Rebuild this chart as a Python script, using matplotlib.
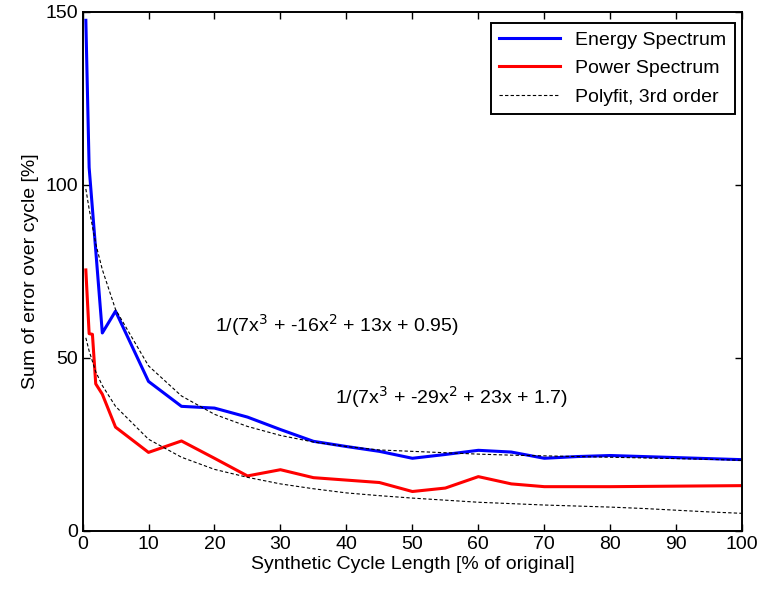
import matplotlib
matplotlib.use("Agg")
import matplotlib.pyplot as plt

plt.rcParams["font.family"] = ["Liberation Sans", "DejaVu Sans"]

# cycle length [% of original]
x_energy = [0.5, 1, 3, 5, 10, 15, 20, 25, 30, 35, 40, 45, 50, 55, 60, 65, 70, 75, 80, 90, 100]
energy = [147.5, 105, 57.2, 63.5, 43.2, 36.0, 35.5, 32.9, 29.3, 25.9, 24.4, 23.0, 21.0, 22.1,
          23.3, 22.8, 21.0, 21.5, 21.8, 21.2, 20.6]

x_power = [0.5, 1, 1.5, 2, 3, 5, 10, 15, 20, 25, 30, 35, 40, 45, 50, 55, 60, 65, 70, 80, 100]
power = [75.4, 57.0, 56.8, 42.5, 39.5, 30.0, 22.7, 26.0, 21.0, 15.9, 17.7, 15.4, 14.7, 14.0,
         11.4, 12.4, 15.7, 13.6, 12.8, 12.8, 13.1]

x_fit = [0.5, 1, 2, 3, 5, 10, 15, 20, 25, 30, 35, 40, 45, 50, 55, 60, 65, 70, 75, 80, 85,
         90, 95, 100]
fit_energy = [98.8, 93.0, 83.0, 75.5, 64.0, 47.7, 39.0, 33.7, 30.2, 27.6, 25.7, 24.4, 23.4,
              23.0, 22.6, 22.2, 21.9, 21.7, 21.5, 21.3, 21.1, 20.9, 20.7, 20.4]
fit_power = [55.8, 52.0, 46.0, 42.0, 36.0, 26.5, 21.3, 17.8, 15.5, 13.6, 12.2, 11.0, 10.2,
             9.5, 8.9, 8.3, 7.9, 7.5, 7.2, 6.9, 6.5, 6.0, 5.5, 5.1]

fig = plt.figure(figsize=(7.6, 5.89), dpi=100)
ax = fig.add_axes([0.1086, 0.0985, 0.868, 0.8817])

ax.plot(x_energy, energy, color="#0000ff", lw=2.2, label="Energy Spectrum")
ax.plot(x_power, power, color="#ff0000", lw=2.2, label="Power Spectrum")
ax.plot(x_fit, fit_energy, color="k", lw=0.8, ls=(0, (3, 2)), label="Polyfit, 3rd order")
ax.plot(x_fit, fit_power, color="k", lw=0.8, ls=(0, (3, 2)))

ax.text(20.1, 59.4, r"1/(7x$^3$ + -16x$^2$ + 13x + 0.95)", fontsize=14, va="center")
ax.text(38.3, 38.8, r"1/(7x$^3$ + -29x$^2$ + 23x + 1.7)", fontsize=14, va="center")

ax.set_xlim(0, 100)
ax.set_ylim(0, 150)
ax.set_xticks(range(0, 101, 10))
ax.set_yticks([0, 50, 100, 150])
ax.tick_params(direction="in", length=5, width=1, top=True, right=True, labelsize=14)
for s in ax.spines.values():
    s.set_linewidth(1.4)
ax.set_xlabel("Synthetic Cycle Length [% of original]", fontsize=14, labelpad=2)
ax.set_ylabel("Sum of error over cycle [%]", fontsize=14, labelpad=4)

leg = ax.legend(loc="upper right", bbox_to_anchor=(0.989, 0.979), borderaxespad=0,
                fontsize=14, handlelength=3.1, fancybox=False, framealpha=1,
                labelspacing=0.55, borderpad=0.45)
leg.get_frame().set_edgecolor("k")
leg.get_frame().set_linewidth(1.4)

fig.savefig("out.png", dpi=100)
